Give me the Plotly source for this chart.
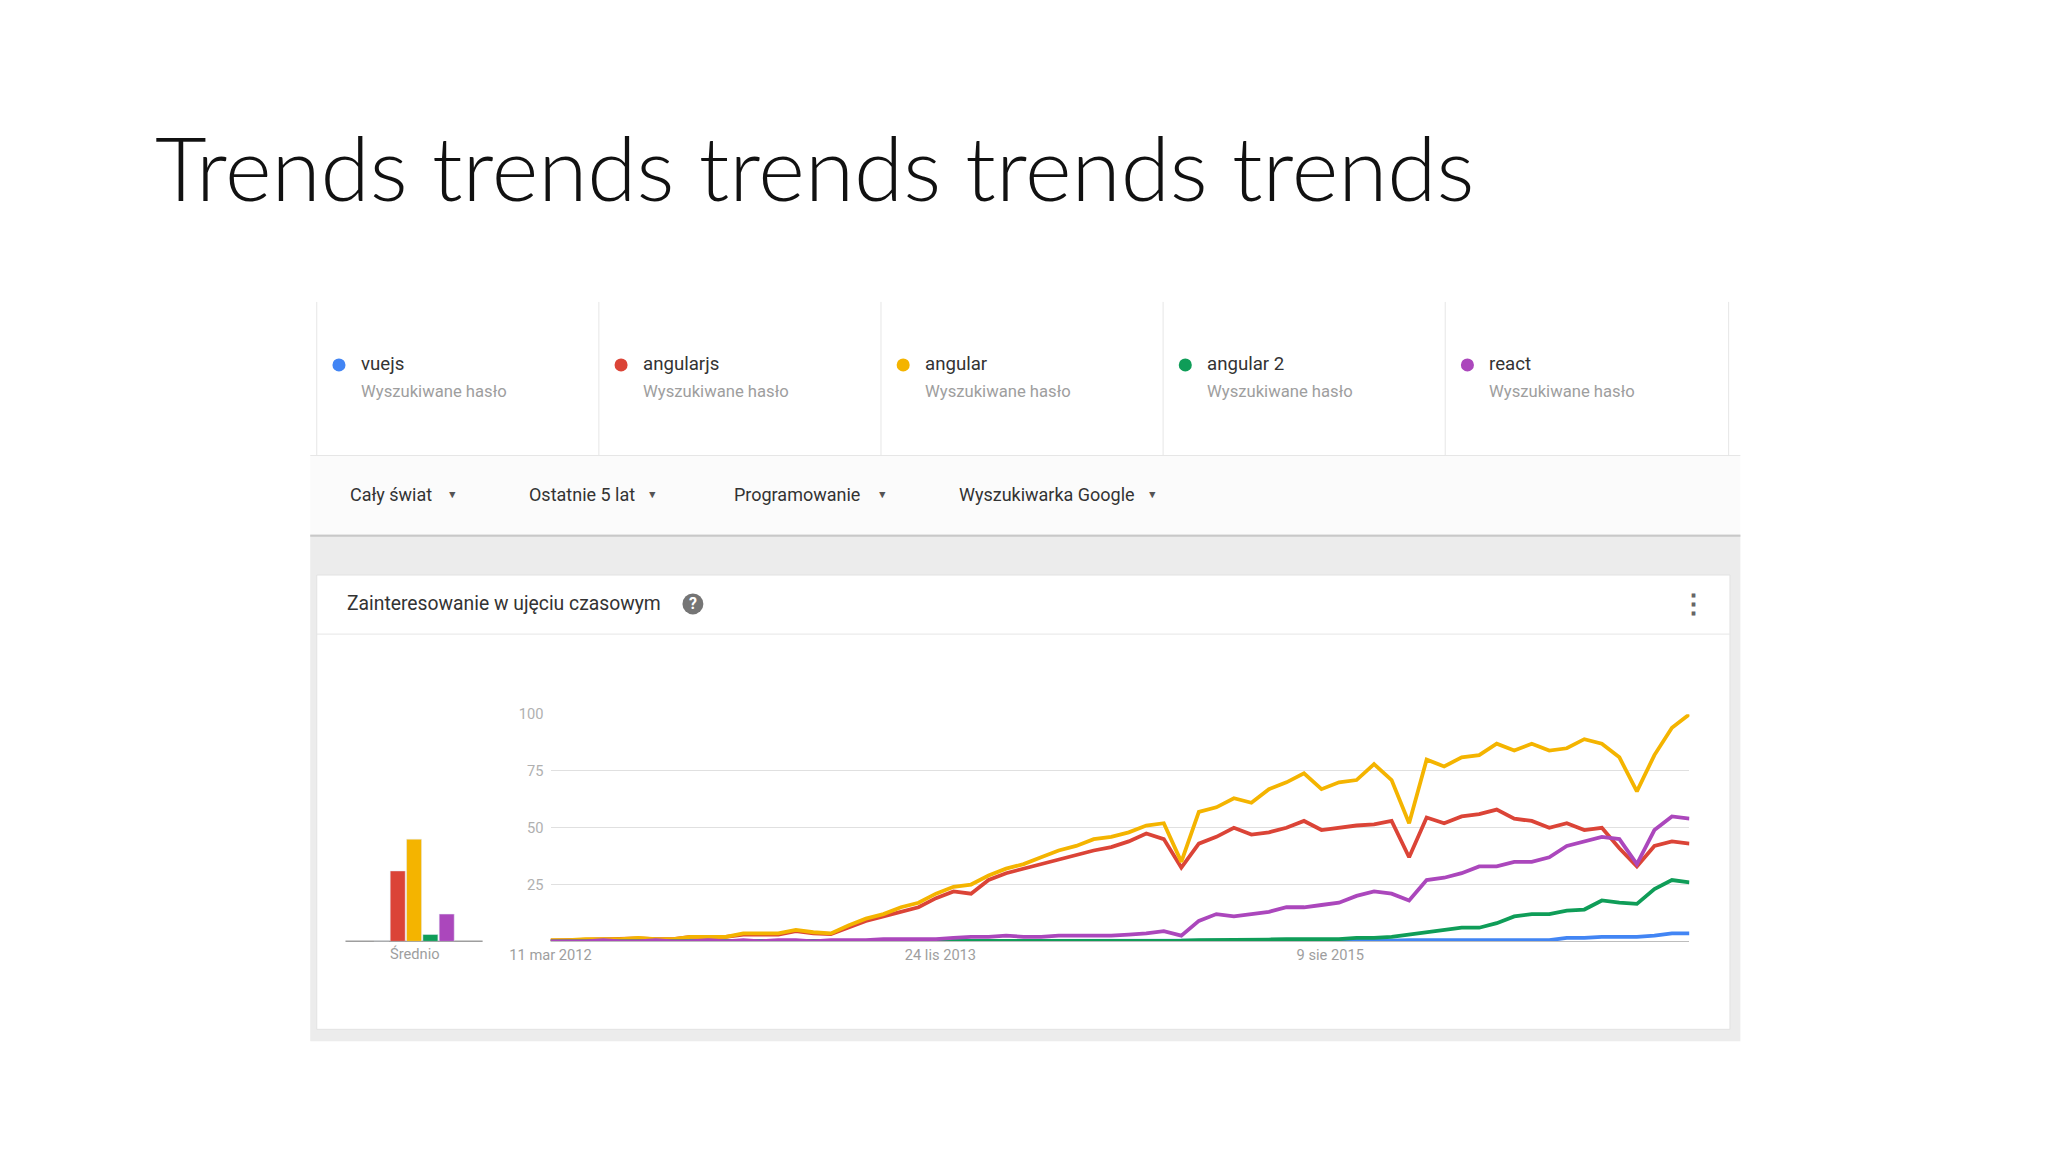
import plotly.graph_objects as go
import pandas as pd

# ---------------- data ----------------
terms = ["vuejs", "angularjs", "angular", "angular 2", "react"]
colors = ["#4285f4", "#db4437", "#f4b400", "#0f9d58", "#ab47bc"]
subtitle = "Wyszukiwane hasło"
filters = ["Cały świat", "Ostatnie 5 lat", "Programowanie", "Wyszukiwarka Google"]
tick_dates = ["2012-03-11", "2013-11-24", "2015-08-09"]
tick_labels = ["11 mar 2012", "24 lis 2013", "9 sie 2015"]
y_ticks = [25, 50, 75, 100]
dates = pd.date_range("2012-03-11", periods=66, freq="28D")

vuejs = [0]*11 + [0]*11 + [0]*11 + [0]*11 + \
    [0, 0, 0.3, 0.3, 0.3, 0.5, 0.5, 0.5, 0.5, 0.5, 0.5] + \
    [0.5, 0.5, 0.5, 1.5, 1.5, 2, 2, 2, 2.5, 3.5, 3.5]
angularjs = [0.3, 0.5, 1, 1, 1, 1.3, 1, 1, 2, 2, 2] + \
    [3, 3, 3, 4.5, 3.5, 3.2, 6, 9, 11, 13, 15] + \
    [19, 22, 21, 27, 30, 32, 34, 36, 38, 40, 41.5] + \
    [44, 47.5, 45, 32.5, 43, 46, 50, 47, 48, 50, 53] + \
    [49, 50, 51, 51.5, 53, 37, 54.5, 52, 55, 56, 58] + \
    [54, 53, 50, 52, 49, 50, 41, 33, 42, 44, 43]
angular = [0.5, 0.5, 1, 1, 1, 1.5, 1, 1, 2, 2, 2] + \
    [3.5, 3.5, 3.5, 5, 4, 3.5, 7, 10, 12, 15, 17] + \
    [21, 24, 25, 29, 32, 34, 37, 40, 42, 45, 46] + \
    [48, 51, 52, 35, 57, 59, 63, 61, 67, 70, 74] + \
    [67, 70, 71, 78, 71, 52, 80, 77, 81, 82, 87] + \
    [84, 87, 84, 85, 89, 87, 81, 66, 82, 94, 100]
angular2 = [0]*11 + [0]*11 + [0]*11 + \
    [0, 0, 0.3, 0.3, 0.5, 0.5, 0.5, 0.5, 0.8, 1, 1] + \
    [1, 1, 1.5, 1.5, 2, 3, 4, 5, 6, 6, 8] + \
    [11, 12, 12, 13.5, 14, 18, 17, 16.5, 23, 27, 26]
react = [0, 0, 0, 0.5, 0, 0, 0.5, 0, 0, 0.5, 0] + \
    [0.5, 0, 0.5, 0.5, 0, 0.5, 0.5, 0.5, 1, 1, 1] + \
    [1, 1.5, 2, 2, 2.5, 2, 2, 2.5, 2.5, 2.5, 2.5] + \
    [3, 3.5, 4.5, 2.5, 9, 12, 11, 12, 13, 15, 15] + \
    [16, 17, 20, 22, 21, 18, 27, 28, 30, 33, 33] + \
    [35, 35, 37, 42, 44, 46, 45, 34, 49, 55, 54]
series = [vuejs, angularjs, angular, angular2, react]
averages = [0, 31, 45, 3, 12]

# ---------------- layout helpers ----------------
W, H = 2048, 1152
S = 2048 / 1568
AX, BX = 0.98, 36
AY, BY = 0.987, 16
def px(x): return ((x - BX) / AX) * S / W
def py(y): return 1 - ((y - BY) / AY) * S / H
FS = S / AX

FONT = "Roboto"
fig = go.Figure()

for name, vals, c in zip(terms, series, colors):
    fig.add_trace(go.Scatter(x=dates, y=vals, mode="lines", name=name,
                             line=dict(color=c, width=3.8), xaxis="x", yaxis="y"))
fig.add_trace(go.Bar(x=list(range(len(terms))), y=averages, marker_color=colors,
                     width=0.92, xaxis="x2", yaxis="y2", showlegend=False))

shapes = []
def rect(x0, y0, x1, y1, fill, line=None):
    shapes.append(dict(type="rect", xref="paper", yref="paper", layer="below",
                       x0=px(x0), x1=px(x1), y0=py(y1), y1=py(y0), fillcolor=fill,
                       line=dict(width=1 if line else 0, color=line or fill)))
def hline(x0, x1, y, c, w=1):
    shapes.append(dict(type="line", xref="paper", yref="paper", layer="below",
                       x0=px(x0), x1=px(x1), y0=py(y), y1=py(y), line=dict(color=c, width=w)))
def vline(x, y0, y1, c):
    shapes.append(dict(type="line", xref="paper", yref="paper", layer="below",
                       x0=px(x), x1=px(x), y0=py(y0), y1=py(y1), line=dict(color=c, width=1)))

rect(236, 350, 1331, 410, "#fbfbfb")
rect(236, 410, 1331, 796, "#ececec")
hline(236, 1331, 411, "#c8c8c8", 2)
rect(241, 441, 1323, 787, "#ffffff", "#e2e2e2")
hline(241, 1323, 486, "#e6e6e6")
hline(236, 1331, 350, "#e6e6e6")
for xv in [241, 457, 673, 889, 1105, 1322]:
    vline(xv, 233, 350, "#e6e6e6")
hline(263, 368, 720, "#9e9e9e", 1.5)
shapes.append(dict(type="circle", xref="paper", yref="paper",
                   x0=px(521), x1=px(537), y0=py(471), y1=py(455),
                   fillcolor="#757575", line=dict(width=0)))

ann = []
def text(x, y, t, size, color, anchor="left", family=FONT, **kw):
    ann.append(dict(x=px(x), y=py(y), xref="paper", yref="paper", text=t, showarrow=False,
                    xanchor=anchor, yanchor="middle",
                    font=dict(size=size * FS, family=family, color=color, **kw)))

text(116, 130, "Trends trends trends trends trends", 67, "#111111", family="Lato", weight=300)
for i, (name, c) in enumerate(zip(terms, colors)):
    x0 = 241 + 216 * i
    shapes.append(dict(type="circle", xref="paper", yref="paper",
                       x0=px(x0 + 12), x1=px(x0 + 22), y0=py(286), y1=py(276),
                       fillcolor=c, line=dict(width=0)))
    text(x0 + 32, 280, name, 14, "#333333")
    text(x0 + 32, 301, subtitle, 12.5, "#9e9e9e")
fx = [265, 402, 559, 731]
ax_ = [345, 498, 674, 881]
for f, x, a in zip(filters, fx, ax_):
    text(x, 380, f, 13.5, "#333333")
    text(a, 380, "▼", 8, "#555555", anchor="center")
text(263, 463, "Zainteresowanie w ujęciu czasowym", 14.5, "#333333")
text(529, 463, "?", 12, "#ffffff", anchor="center", weight=700)
text(1295, 463, "⋮", 20, "#666666", anchor="center", weight=700)
text(316, 730, "Średnio", 11, "#9e9e9e", anchor="center")

fig.update_layout(
    width=W, height=H, margin=dict(l=0, r=0, t=0, b=0),
    paper_bgcolor="white", plot_bgcolor="rgba(0,0,0,0)", showlegend=False,
    shapes=shapes, annotations=ann,
    font=dict(family=FONT),
    xaxis=dict(domain=[px(420), px(1292)], range=[dates[0], dates[-1]],
               tickvals=tick_dates, ticktext=tick_labels, showgrid=False,
               showline=True, linecolor="#bdbdbd", ticks="",
               tickfont=dict(size=11 * FS, color="#9e9e9e")),
    yaxis=dict(domain=[py(720), py(547)], range=[0, 100], tickvals=y_ticks,
               gridcolor="#e0e0e0", gridwidth=1, zeroline=False, ticks="",
               ticklabelstandoff=6, tickfont=dict(size=11 * FS, color="#b0b0b0")),
    xaxis2=dict(domain=[px(263), px(368)], range=[-2.2, 6.2], visible=False),
    yaxis2=dict(domain=[py(720), py(547)], range=[0, 100], visible=False, anchor="x2"),
)
fig.write_html("out.html")
